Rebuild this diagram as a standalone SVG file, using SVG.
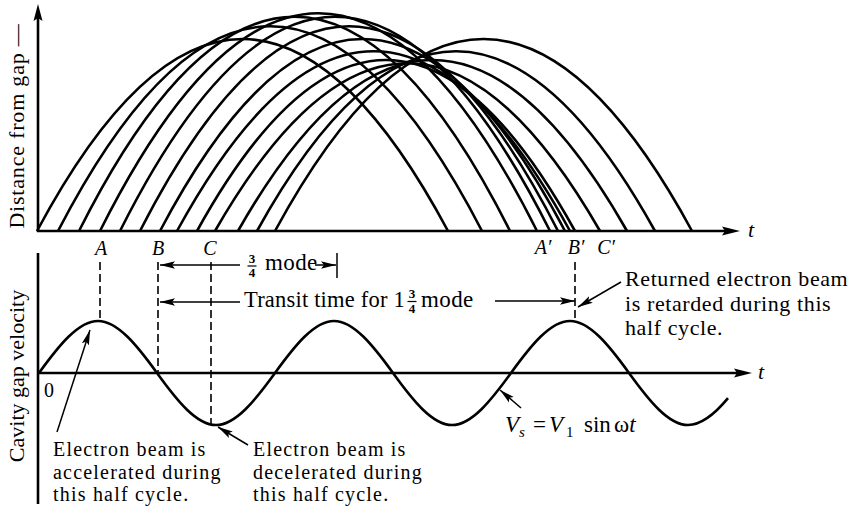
<svg xmlns="http://www.w3.org/2000/svg" width="858" height="506" viewBox="0 0 858 506">
<style>
.ax{stroke:#000;stroke-width:2.6;fill:none}
.cv{stroke:#000;stroke-width:2.6;fill:none}
.ds{stroke:#000;stroke-width:1.6;stroke-dasharray:8 4;fill:none}
.ar{stroke:#000;stroke-width:1.5;fill:none}
.hd{fill:#000;stroke:none}
text{font-family:"Liberation Serif","Times New Roman",serif;fill:#000}
.t{font-size:20px;letter-spacing:1.2px}
.r{font-size:22px;letter-spacing:0.6px}
.m{font-size:23px;letter-spacing:0.4px}
.y{font-size:22px}
.it{font-style:italic}
.lab{font-size:20px;font-style:italic;text-anchor:middle}
.fr{font-size:13px;font-weight:bold;text-anchor:middle}
</style>
<defs>
<marker id="ah" markerUnits="userSpaceOnUse" markerWidth="16" markerHeight="9" refX="15" refY="4.5" orient="auto" viewBox="0 0 16 9"><path d="M0,0.8 L15,4.5 L0,8.2 L3,4.5 z" fill="#000"/></marker>
</defs>

<g id="top-plot">
<path class="ax" d="M38,232 V16"/>
<polygon class="hd" points="38,4 33.5,21 38,18 42.5,21"/>
<path class="ax" d="M37,231 H726"/>
<polygon class="hd" points="740,231 722,226.5 725,231 722,235.5"/>
<text class="y it" x="748" y="237">t</text>
<text class="y" x="24" y="126" text-anchor="middle" letter-spacing="0.8" transform="rotate(-90 24 126)">Distance from gap —</text>
<g id="trajectories">
<path class="cv" d="M37,231 Q242.5,-153 448,231"/>
<path class="cv" d="M58,231 Q270,-178.4 482,231"/>
<path class="cv" d="M79,231 Q294.5,-197.4 510,231"/>
<path class="cv" d="M100,231 Q318.5,-204.6 537,231"/>
<path class="cv" d="M120,231 Q335,-197.4 550,231"/>
<path class="cv" d="M140,231 Q349,-178.4 558,231"/>
<path class="cv" d="M160,231 Q362.5,-153 565,231"/>
<path class="cv" d="M177,231 Q373.5,-128.4 570,231"/>
<path class="cv" d="M197,231 Q386,-111 575,231"/>
<path class="cv" d="M215,231 Q407.5,-104.6 600,231"/>
<path class="cv" d="M238,231 Q432.5,-111 627,231"/>
<path class="cv" d="M257,231 Q456,-128.4 655,231"/>
<path class="cv" d="M275,231 Q483.5,-153 692,231"/>
</g>
<text class="lab" x="101" y="255">A</text>
<text class="lab" x="158" y="255">B</text>
<text class="lab" x="210" y="255">C</text>
<text class="lab" x="543" y="254">A′</text>
<text class="lab" x="576" y="254">B′</text>
<text class="lab" x="606" y="254">C′</text>
</g>

<g id="bottom-plot">
<path class="ax" d="M38,253 V504"/>
<path class="ax" d="M37,373 H738"/>
<polygon class="hd" points="752,373 734,368.5 737,373 734,377.5"/>
<text class="y it" x="758" y="379">t</text>
<text class="y" x="24" y="376" text-anchor="middle" transform="rotate(-90 24 376)">Cavity gap velocity</text>
<text x="49" y="397" font-size="20" text-anchor="middle">0</text>
<path id="sine" class="cv" d="M39,373 C58.67,345.8 78.33,321 98,321 C117.67,321 137.33,345.8 157,373 C176.67,400.2 196.33,425 216,425 C235.67,425 255.33,400.2 275,373 C294.67,345.8 314.33,321 334,321 C353.67,321 373.33,345.8 393,373 C412.67,400.2 432.33,425 452,425 C471.67,425 491.33,400.2 511,373 C530.67,345.8 550.33,321 570,321 C589.67,321 609.33,345.8 629,373 C648.67,400.2 668.33,425 688,425 C701.33,425 714.67,414.3 728,398.2"/>
</g>

<g id="connectors">
<path class="ds" d="M100,262 V321"/>
<path class="ds" d="M158,262 V373"/>
<path class="ds" d="M211,262 V424"/>
<path class="ds" d="M575,262 V319"/>
<path class="ar" d="M240,265 H160" marker-end="url(#ah)"/>
<path class="ar" d="M315,265 H336" marker-end="url(#ah)"/>
<path class="ar" d="M337,253 V278"/>
<path class="ar" d="M240,302 H160" marker-end="url(#ah)"/>
<path class="ar" d="M495,301 H575" marker-end="url(#ah)"/>
<path class="ar" d="M621,282 L578,307" marker-end="url(#ah)"/>
<path class="ar" d="M57,432 L90,330" marker-end="url(#ah)"/>
<path class="ar" d="M248,445 L218,427" marker-end="url(#ah)"/>
<path class="ar" d="M521,408 L500,390" marker-end="url(#ah)"/>
</g>

<g id="mode-label">
<text class="fr" x="252" y="263">3</text>
<path d="M247.5,266 H256.5" stroke="#000" stroke-width="1.2"/>
<text class="fr" x="252" y="277">4</text>
<text class="m" x="265" y="270">mode</text>
</g>

<g id="transit-label">
<text x="244" y="307" font-size="22.5" letter-spacing="0.2">Transit time for 1</text>
<text class="fr" x="412" y="298">3</text>
<path d="M407.5,301.5 H416.5" stroke="#000" stroke-width="1.2"/>
<text class="fr" x="412" y="313">4</text>
<text class="m" x="421" y="307">mode</text>
</g>

<g id="returned-note">
<text class="r" x="625" y="286">Returned electron beam</text>
<text class="r" x="625" y="310.5">is retarded during this</text>
<text class="r" x="625" y="335">half cycle.</text>
</g>

<g id="accel-note">
<text class="t" x="53" y="456">Electron beam is</text>
<text class="t" x="53" y="478.5">accelerated during</text>
<text class="t" x="53" y="501">this half cycle.</text>
</g>

<g id="decel-note">
<text class="t" x="253" y="456">Electron beam is</text>
<text class="t" x="253" y="478.5">decelerated during</text>
<text class="t" x="253" y="501">this half cycle.</text>
</g>

<g id="vs-label">
<text font-size="23" y="432"><tspan x="505" class="it">V</tspan><tspan x="519" y="437" font-size="15" class="it">s</tspan><tspan x="533" y="432">=</tspan><tspan x="549" class="it">V</tspan><tspan x="566" y="437" font-size="15">1</tspan><tspan x="584" y="432">sin</tspan><tspan x="614">ω</tspan><tspan class="it">t</tspan></text>
</g>
</svg>
